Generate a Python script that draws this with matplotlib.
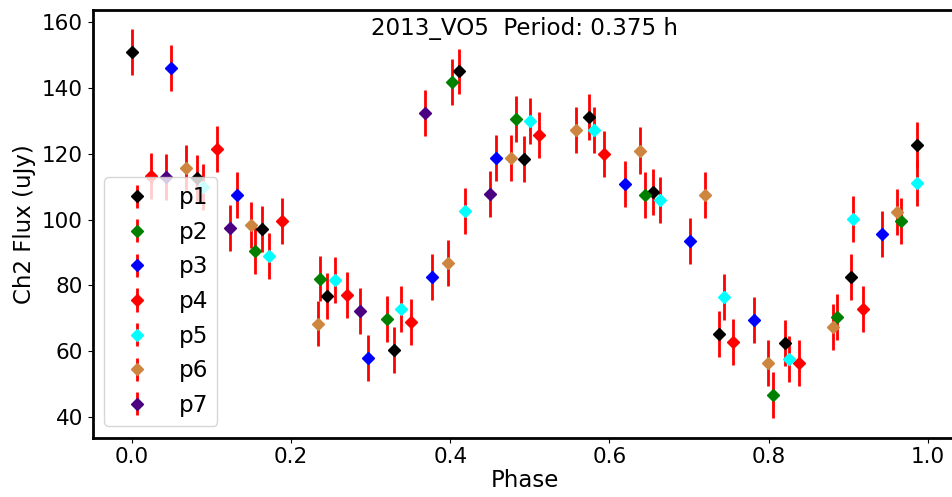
import matplotlib
matplotlib.use('Agg')
import matplotlib.pyplot as plt

# Phase-folded light curve data, one set of arrays per observing pass
labels = ['p1', 'p2', 'p3', 'p4', 'p5', 'p6', 'p7']
colors = ['black', 'green', 'blue', 'red', 'cyan', 'peru', 'indigo']

p1_phase = [0.0, 0.082, 0.163, 0.245, 0.329, 0.411, 0.492, 0.574, 0.655, 0.737, 0.820, 0.903, 0.987]
p1_flux = [151.0, 112.7, 97.0, 76.8, 60.3, 145.1, 118.3, 131.1, 108.4, 65.2, 62.5, 82.6, 122.6]
p1_err = [6.9, 7.0, 7.0, 7.0, 7.0, 6.8, 7.0, 7.0, 7.0, 7.0, 7.0, 7.0, 7.0]

p2_phase = [0.154, 0.2365, 0.320, 0.4017, 0.4826, 0.644, 0.806, 0.886, 0.9665]
p2_flux = [90.6, 82.0, 69.8, 141.7, 130.7, 107.6, 46.6, 70.4, 99.6]
p2_err = [7.0, 6.9, 7.0, 7.0, 7.0, 7.0, 7.0, 7.0, 7.0]

p3_phase = [0.049, 0.132, 0.296, 0.377, 0.458, 0.620, 0.701, 0.7815, 0.942]
p3_flux = [146.0, 107.5, 58.0, 82.5, 118.6, 110.8, 93.5, 69.6, 95.6]
p3_err = [7.0, 7.0, 7.0, 7.0, 7.0, 7.0, 7.0, 7.0, 7.0]

p4_phase = [0.0235, 0.107, 0.189, 0.270, 0.351, 0.5116, 0.5925, 0.7555, 0.838, 0.918]
p4_flux = [113.3, 121.6, 99.6, 77.1, 69.0, 125.7, 119.9, 62.7, 56.4, 72.8]
p4_err = [7.0, 7.0, 7.0, 7.0, 7.0, 7.0, 7.0, 7.0, 6.9, 7.0]

p5_phase = [0.089, 0.172, 0.2553, 0.338, 0.419, 0.500, 0.581, 0.663, 0.744, 0.826, 0.9065, 0.987]
p5_flux = [110.0, 88.9, 81.5, 72.8, 102.6, 130.1, 127.1, 106.1, 76.5, 57.5, 100.1, 111.2]
p5_err = [7.0, 7.0, 7.0, 7.0, 7.0, 7.0, 7.0, 7.0, 7.0, 7.0, 7.0, 7.0]

p6_phase = [0.0675, 0.150, 0.2336, 0.3967, 0.476, 0.5576, 0.6386, 0.7195, 0.7995, 0.881, 0.9614]
p6_flux = [115.8, 98.4, 68.4, 86.8, 118.6, 127.3, 121.0, 107.6, 56.4, 67.3, 102.2]
p6_err = [6.9, 7.0, 6.9, 7.0, 7.0, 7.0, 7.0, 7.0, 7.0, 7.0, 7.0]

p7_phase = [0.043, 0.1237, 0.287, 0.3677, 0.450]
p7_flux = [113.0, 97.3, 72.1, 132.5, 107.7]
p7_err = [7.0, 7.0, 7.0, 7.0, 7.0]

phases = [p1_phase, p2_phase, p3_phase, p4_phase, p5_phase, p6_phase, p7_phase]
fluxes = [p1_flux, p2_flux, p3_flux, p4_flux, p5_flux, p6_flux, p7_flux]
errs = [p1_err, p2_err, p3_err, p4_err, p5_err, p6_err, p7_err]

fig = plt.figure(figsize=(9.52, 4.97), dpi=100)
# axes run past the right edge, like the original cropped image
ax = fig.add_axes([0.0974, 0.1193, 0.9076, 0.8612])

for ph, fl, er, c, lab in zip(phases, fluxes, errs, colors, labels):
    ax.errorbar(ph, fl, yerr=er, fmt='D', color=c, ecolor='red',
                elinewidth=2, capsize=0, markersize=6, label=lab)

ax.text(0.5, 0.982, '2013_VO5  Period: 0.375 h', transform=ax.transAxes,
        ha='center', va='top', fontsize=16.6)
ax.set_xlabel('Phase', fontsize=16.5, labelpad=1)
ax.set_ylabel('Ch2 Flux (uJy)', fontsize=16.5)
ax.tick_params(labelsize=15.5)
for s in ax.spines.values():
    s.set_linewidth(2)
ax.legend(loc='lower left', fontsize=16.7)

plt.savefig('out.png', dpi=100)
